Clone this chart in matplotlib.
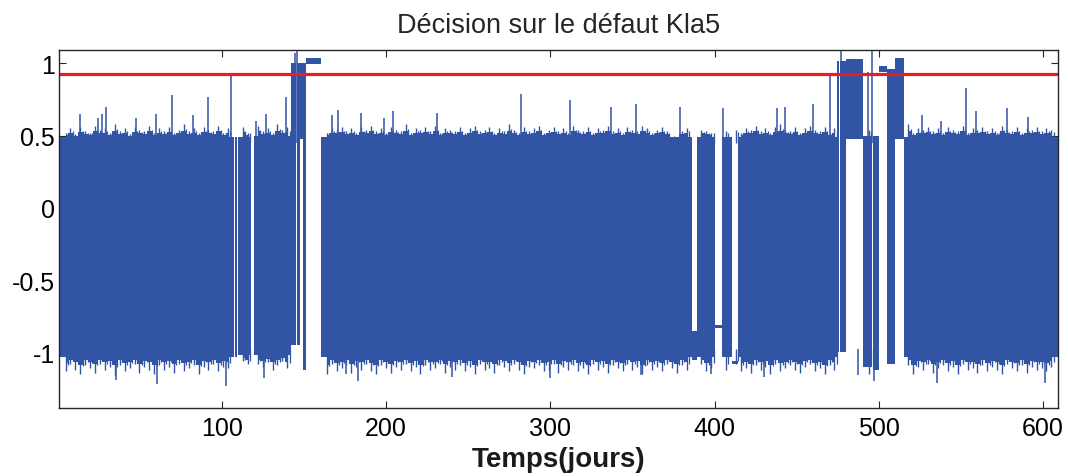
import numpy as np
import matplotlib
matplotlib.use("Agg")
import matplotlib.pyplot as plt

plt.rcParams["font.family"] = ["Liberation Sans", "DejaVu Sans"]

BLUE = "#3154a5"
RED = "#ec1c24"
THRESHOLD = 0.925

# solid blocks of the decision signal: (start day, end day, low, high)
BLOCK_START = [1, 108.1, 109.8, 119.6, 142.0, 145.8, 147.5, 149.4, 151.6, 160.3,
               386.4, 389.6, 400.3, 404.3, 410.4, 414.4, 474.7, 476.4, 479.8,
               490.5, 496.7, 500.2, 504.8, 509.7, 515.0]
BLOCK_END = [107.4, 109.3, 117.6, 142.0, 145.3, 147.5, 149.4, 151.6, 160.3, 386.4,
             389.6, 400.3, 404.3, 410.4, 414.4, 474.7, 476.0, 479.8, 490.5,
             495.9, 500.2, 504.8, 509.7, 515.0, 609.0]
BLOCK_LOW = [-1.03, -1.03, -1.02, -1.02, -0.95, -0.95, 0.48, -1.12, 0.995, -1.03,
             -1.05, -1.03, -0.83, -1.03, -1.08, -1.03, -1.0, -1.0, 0.48,
             -1.1, -1.12, 0.94, -1.08, 0.48, -1.03]
BLOCK_HIGH = [0.49, 0.49, 0.49, 0.50, 1.0, 1.0, 1.0, 1.0, 1.035, 0.49,
              -0.85, 0.49, -0.81, 0.49, -1.06, 0.49, 1.02, 1.02, 1.03,
              0.50, 0.50, 0.98, 0.96, 1.035, 0.49]

# ragged edges of the normal band, one reading every 3 days from day 2
FUZZ_DAY0, FUZZ_STEP = 2, 3
TOP_FUZZ = [
    0.54, 0.52, 0.55, 0.51, 0.56, 0.53, 0.52, 0.57, 0.54, 0.55, 0.52, 0.58, 0.53, 0.55, 0.51, 0.56, 0.54, 0.53, 0.57, 0.52,
    0.55, 0.53, 0.56, 0.52, 0.54, 0.58, 0.53, 0.55, 0.52, 0.56, 0.54, 0.53, 0.57, 0.52, 0.55, 0.53, 0.54, 0.56, 0.52, 0.54,
    0.57, 0.53, 0.55, 0.52, 0.58, 0.54, 0.56, 0.53, 0.55, 0.52, 0.56, 0.54, 0.53, 0.57, 0.52, 0.55, 0.54, 0.56, 0.53, 0.55,
    0.52, 0.56, 0.54, 0.57, 0.53, 0.55, 0.52, 0.56, 0.54, 0.53, 0.58, 0.52, 0.55, 0.54, 0.56, 0.53, 0.57, 0.52, 0.55, 0.54,
    0.53, 0.56, 0.52, 0.55, 0.57, 0.53, 0.54, 0.56, 0.52, 0.55, 0.53, 0.58, 0.54, 0.52, 0.56, 0.53, 0.55, 0.57, 0.52, 0.54,
    0.56, 0.53, 0.55, 0.52, 0.57, 0.54, 0.53, 0.56, 0.52, 0.55, 0.54, 0.57, 0.53, 0.55, 0.52, 0.56, 0.54, 0.53, 0.57, 0.55,
    0.52, 0.54, 0.56, 0.53, 0.49, 0.47, 0.53, 0.55, 0.52, 0.56, 0.54, 0.53, 0.52, 0.55, 0.57, 0.53, 0.56, 0.54, 0.52, 0.55,
    0.54, 0.57, 0.53, 0.55, 0.52, 0.56, 0.58, 0.54, 0.53, 0.56, 0.52, 0.55, 0.57, 0.54, 0.53, 0.56, 0.52, 0.55, 0.54, 0.57,
    0.53, 0.55, 0.52, 0.56, 0.54, 0.53, 0.57, 0.52, 0.55, 0.54, 0.56, 0.53, 0.58, 0.52, 0.55, 0.54, 0.56, 0.53, 0.55, 0.52,
    0.56, 0.54, 0.53, 0.57, 0.52, 0.55, 0.54, 0.56, 0.53, 0.55, 0.52, 0.57, 0.54, 0.53, 0.56, 0.52, 0.55, 0.54, 0.56, 0.53,
    0.55, 0.54,
]
BOT_FUZZ = [
    -1.10, -1.13, -1.08, -1.12, -1.15, -1.09, -1.11, -1.14, -1.08, -1.12, -1.10, -1.16, -1.09, -1.13, -1.11, -1.08, -1.14, -1.10, -1.12, -1.15,
    -1.09, -1.12, -1.10, -1.14, -1.08, -1.13, -1.11, -1.09, -1.15, -1.10, -1.12, -1.08, -1.13, -1.10, -1.11, -1.07, -1.09, -1.06, -1.08, -1.05,
    -1.08, -1.10, -1.07, -1.12, -1.09, -1.06, -1.11, -1.08, -1.10, -1.12, -1.14, -1.09, -1.12, -1.10, -1.15, -1.08, -1.13, -1.11, -1.09, -1.14,
    -1.10, -1.12, -1.08, -1.13, -1.15, -1.09, -1.11, -1.14, -1.10, -1.12, -1.08, -1.13, -1.10, -1.15, -1.09, -1.12, -1.11, -1.08, -1.14, -1.10,
    -1.12, -1.09, -1.13, -1.10, -1.15, -1.08, -1.12, -1.11, -1.14, -1.09, -1.10, -1.13, -1.08, -1.12, -1.15, -1.10, -1.11, -1.09, -1.13, -1.12,
    -1.08, -1.14, -1.10, -1.12, -1.09, -1.13, -1.11, -1.15, -1.08, -1.12, -1.10, -1.14, -1.09, -1.11, -1.13, -1.08, -1.12, -1.10, -1.15, -1.09,
    -1.12, -1.10, -1.13, -1.08, -1.11, -1.14, -1.09, -1.12, -1.10, -1.15, -1.08, -1.13, -1.11, -1.09, -1.14, -1.12, -1.10, -1.08, -1.13, -1.11,
    -1.14, -1.09, -1.12, -1.10, -1.15, -1.08, -1.13, -1.11, -1.09, -1.12, -1.14, -1.10, -1.08, -1.13, -1.11, -1.15, -1.09, -1.12, -1.10, -1.14,
    -1.08, -1.13, -1.11, -1.09, -1.15, -1.12, -1.10, -1.14, -1.08, -1.12, -1.11, -1.13, -1.09, -1.15, -1.10, -1.12, -1.08, -1.14, -1.11, -1.09,
    -1.13, -1.10, -1.15, -1.08, -1.12, -1.11, -1.14, -1.09, -1.13, -1.10, -1.12, -1.15, -1.08, -1.11, -1.13, -1.09, -1.14, -1.10, -1.12, -1.11,
    -1.13, -1.10,
]

# isolated tall spikes
UP_DAY = [14, 25, 27.5, 29.4, 47.6, 59.8, 70, 82.3, 92, 105.5, 121, 127, 139, 144.5, 146.1,
          167, 171, 185, 199, 204, 231, 282, 312, 337, 352, 379, 405, 438, 443, 460,
          470, 476.8, 493.5, 495.7, 526, 538, 553, 559, 578, 591]
UP_VAL = [0.65, 0.62, 0.65, 0.70, 0.62, 0.65, 0.78, 0.64, 0.77, 0.91, 0.60, 0.65, 0.77, 1.07, 1.09,
          0.64, 0.68, 0.66, 0.62, 0.67, 0.66, 0.79, 0.75, 0.70, 0.72, 0.70, 0.69, 0.69, 0.70, 0.72,
          0.91, 1.09, 0.94, 1.09, 0.64, 0.60, 0.83, 0.67, 0.69, 0.63]
DOWN_DAY = [36, 60.5, 102.4, 126, 176, 183, 240, 300, 355, 398, 430, 487.5, 497, 535.5, 601]
DOWN_VAL = [-1.19, -1.22, -1.23, -1.18, -1.15, -1.20, -1.17, -1.18, -1.16, -1.15, -1.17, -1.16, -1.20, -1.21, -1.21]

fig = plt.figure(figsize=(10.68, 4.77), dpi=100)
ax = fig.add_axes([0.0552, 0.1426, 0.9354, 0.7505])

start = np.array(BLOCK_START)
end = np.array(BLOCK_END)
low = np.array(BLOCK_LOW)
high = np.array(BLOCK_HIGH)
ax.bar((start + end) / 2, high - low, width=end - start, bottom=low,
       color=BLUE, linewidth=0, zorder=2)

# ragged edges, drawn only over the blocks where the normal band is present
fuzz_days = FUZZ_DAY0 + FUZZ_STEP * np.arange(len(TOP_FUZZ))
top_fuzz = np.array(TOP_FUZZ)
bot_fuzz = np.array(BOT_FUZZ)
normal = (high < 0.6) & (low < -0.9)
for s, e in zip(start[normal], end[normal]):
    m = (fuzz_days >= s + 1.2) & (fuzz_days <= e - 1.2)
    if m.sum() < 1:
        continue
    d = fuzz_days[m]
    # stepped fringe, half the reading, then a needle up to the reading
    ax.fill_between(d, 0.45, 0.49 + 0.5 * (top_fuzz[m] - 0.49), step="mid",
                    color=BLUE, lw=0, zorder=2)
    ax.fill_between(d, -1.02 + 0.5 * (bot_fuzz[m] + 1.02), -0.98, step="mid",
                    color=BLUE, lw=0, zorder=2)
    ax.vlines(d, 0.45, top_fuzz[m], color=BLUE, lw=1.0, zorder=2)
    ax.vlines(d + 1.4, 0.45, 0.5 * (top_fuzz[m] + 0.51), color=BLUE, lw=0.9, zorder=2)
    ax.vlines(d, bot_fuzz[m], -0.98, color=BLUE, lw=1.0, zorder=2)
    ax.vlines(d + 1.4, 0.5 * (bot_fuzz[m] - 1.04), -0.98, color=BLUE, lw=0.9, zorder=2)
ax.vlines(UP_DAY, 0.45, UP_VAL, color=BLUE, lw=1.1, zorder=2)
ax.vlines(DOWN_DAY, DOWN_VAL, -0.98, color=BLUE, lw=1.1, zorder=2)

ax.axhline(THRESHOLD, color=RED, lw=2.3, zorder=3)

ax.set_xlim(1, 609)
ax.set_ylim(-1.385, 1.093)
ax.set_xticks([100, 200, 300, 400, 500, 600])
ax.set_yticks([-1, -0.5, 0, 0.5, 1])
ax.set_yticklabels(["-1", "-0.5", "0", "0.5", "1"])
ax.tick_params(direction="in", length=5, width=0.8, color="#262626",
               labelsize=18, top=True, right=True)
ax.tick_params(axis="x", pad=6)
ax.tick_params(axis="y", pad=3)
for sp in ax.spines.values():
    sp.set_color("#262626")
    sp.set_linewidth(1.0)
    sp.set_zorder(4)

ax.set_title("Décision sur le défaut Kla5", fontsize=19.5, pad=13, color="#262626")
ax.set_xlabel("Temps(jours)", fontsize=20, fontweight="bold", labelpad=4, color="#1a1a1a")

fig.savefig("out.png", dpi=100)
